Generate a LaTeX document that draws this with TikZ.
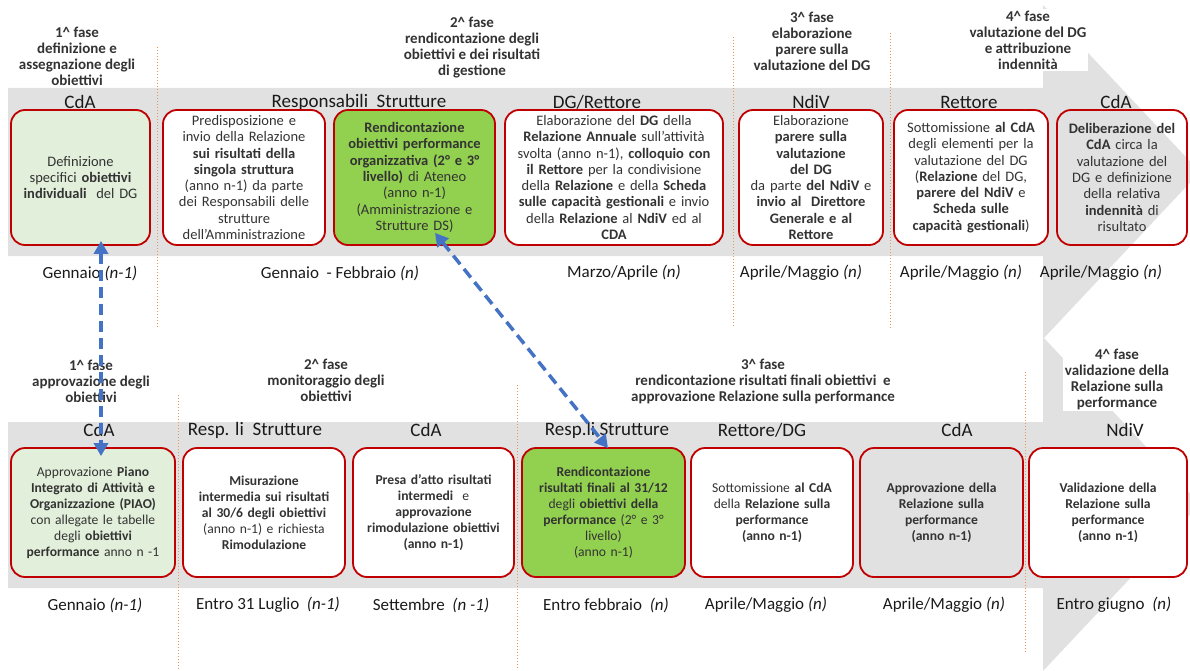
\documentclass[tikz,border=0pt]{standalone}
\usepackage{fontspec}
\setmainfont{Carlito}
\usepackage{tikz}
\usetikzlibrary{positioning, arrows.meta}

\definecolor{bandgray}{HTML}{E1E1E1}
\definecolor{boxred}{HTML}{C00000}
\definecolor{palegreen}{HTML}{E2EFDA}
\definecolor{leafgreen}{HTML}{92D050}
\definecolor{linkblue}{HTML}{4472C4}
\definecolor{sepor}{HTML}{EE9050}
\definecolor{txtgray}{HTML}{333333}
\definecolor{txtdark}{HTML}{1A1A1A}

\begin{document}
\begin{tikzpicture}[x=1pt,y=-1pt,font=\fontsize{14.5}{16.3}\selectfont]
    \tikzstyle{actbox} = [rectangle, rounded corners=14pt,
draw=boxred,
line width=1.8pt,
fill=white,
align=center,
inner sep=3pt,
text=txtgray]
\tikzstyle{toprow} = [actbox, minimum height=135pt]
\tikzstyle{botrow} = [actbox, minimum height=129pt, font=\fontsize{13.6}{16}\selectfont]
\tikzstyle{head} = [font=\fontsize{19}{21}\selectfont, text=txtdark]
\tikzstyle{datelbl} = [font=\fontsize{17}{19}\selectfont, text=txtdark]
\tikzstyle{phase} = [font=\bfseries\fontsize{15}{16}\selectfont,
align=center,
fill=white,
inner sep=2pt,
text=txtgray]
\tikzstyle{sepline} = [draw=sepor, line width=1pt, dotted]
\tikzstyle{link} = [draw=linkblue, line width=3.5pt, dash pattern=on 11pt off 6pt,
{Triangle[length=13pt,width=14pt]}-{Triangle[length=13pt,width=14pt]}]

\useasboundingbox (0,0) rectangle (1190,671);

% the two grey flow arrows
\fill [bandgray] (8,88) -- (1043,88) -- (1043,5) -- (1200,172) -- (1043,339) -- (1043,256) -- (8,256) -- cycle;
\fill [bandgray] (8,422) -- (1043,422) -- (1043,337) -- (1200,504) -- (1043,671) -- (1043,588) -- (8,588) -- cycle;

% phase separators
\draw [sepline] (157,47) -- (157,328);
\draw [sepline] (733,37) -- (733,328);
\draw [sepline] (890,33) -- (890,328);
\draw [sepline] (178,395) -- (178,670);
\draw [sepline] (517,385) -- (517,668);
\draw [sepline] (1025,372) -- (1025,653);

% phases, upper row
\node (ph1) [phase] at (77,56) {1\textasciicircum{} fase\\definizione e\\assegnazione degli\\obiettivi};
\node (ph2) [phase] at (472,48) {2\textasciicircum{} fase\\rendicontazione degli\\obiettivi e dei risultati\\di gestione};
\node (ph3) [phase] at (812,41) {3\textasciicircum{} fase\\elaborazione\\parere sulla\\valutazione del DG};
\node (ph4) [phase] at (1028,40) {4\textasciicircum{} fase\\valutazione del DG\\e attribuzione\\indennità};

% actors, upper row
\node (a1) [head] at (80,102) {CdA};
\node (a2) [head] at (359,102) {Responsabili\ \ Strutture};
\node (a3) [head] at (597,102) {DG/Rettore};
\node (a4) [head] at (811,102) {NdiV};
\node (a5) [head] at (969,102) {Rettore};
\node (a6) [head] at (1116,102) {CdA};

% activities, upper row
\node (b1) [toprow, fill=palegreen, text width=133pt] at (80.5,177.5) {Definizione\\specifici \textbf{obiettivi}\\\textbf{individuali}\ \ del DG};
\node (b2) [toprow, text width=156pt] at (244,177.5) {Predisposizione e\\invio della Relazione\\\textbf{sui risultati della}\\\textbf{singola struttura}\\(anno n-1) da parte\\dei Responsabili delle\\strutture\\dell’Amministrazione};
\node (b3) [toprow, fill=leafgreen, text width=155pt] at (414.5,177.5) {\textbf{Rendicontazione}\\\textbf{obiettivi performance}\\\textbf{organizzativa (2° e 3°}\\\textbf{livello)} di Ateneo\\(anno n-1)\\(Amministrazione e\\Strutture DS)};
\node (b4) [toprow, text width=212pt] at (614,177.5) {Elaborazione del \textbf{DG} della\\\textbf{Relazione Annuale} sull’attività\\svolta (anno n-1), \textbf{colloquio con}\\\textbf{il Rettore} per la condivisione\\della \textbf{Relazione} e della \textbf{Scheda}\\\textbf{sulle capacità gestionali} e invio\\della \textbf{Relazione} al \textbf{NdiV} ed al\\\textbf{CDA}};
\node (b5) [toprow, text width=138pt] at (811,177.5) {Elaborazione\\\textbf{parere sulla}\\\textbf{valutazione}\\\textbf{del DG}\\da parte \textbf{del NdiV} e\\\textbf{invio al\ \ Direttore}\\\textbf{Generale e al}\\\textbf{Rettore}};
\node (b6) [toprow, text width=148pt] at (971,177.5) {Sottomissione \textbf{al CdA}\\degli elementi per la\\valutazione del DG\\(\textbf{Relazione} del DG,\\\textbf{parere del NdiV} e\\\textbf{Scheda sulle}\\\textbf{capacità gestionali})};
\node (b7) [toprow, fill=none, text width=124pt] at (1122,177.5) {\textbf{Deliberazione del}\\\textbf{CdA} circa la\\valutazione del\\DG e definizione\\della relativa\\\textbf{indennità} di\\risultato};

% dates, upper row
\node (d1) [datelbl] at (90,273) {Gennaio \textit{(n-1)}};
\node (d2) [datelbl] at (340,273) {Gennaio\ \ - Febbraio \textit{(n)}};
\node (d3) [datelbl] at (624,273) {Marzo/Aprile \textit{(n)}};
\node (d4) [datelbl] at (801,273) {Aprile/Maggio \textit{(n)}};
\node (d5) [datelbl] at (961,273) {Aprile/Maggio \textit{(n)}};
\node (d6) [datelbl] at (1101,273) {Aprile/Maggio \textit{(n)}};

% phases, lower row
\node (pq1) [phase] at (91,381) {1\textasciicircum{} fase\\approvazione degli\\obiettivi};
\node (pq2) [phase] at (326,380) {2\textasciicircum{} fase\\monitoraggio degli\\obiettivi};
\node (pq3) [phase] at (763,381) {3\textasciicircum{} fase\\rendicontazione risultati finali obiettivi\ \ e\\approvazione Relazione sulla performance};
\node (pq4) [phase] at (1117,379) {4\textasciicircum{} fase\\validazione della\\Relazione sulla\\performance};

% actors, lower row
\node (e1) [head] at (99,430) {CdA};
\node (e2) [head] at (255,430) {Resp. li\ \ Strutture};
\node (e3) [head] at (426,430) {CdA};
\node (e4) [head] at (607,430) {Resp.li Strutture};
\node (e5) [head] at (762,430) {Rettore/DG};
\node (e6) [head] at (957,430) {CdA};
\node (e7) [head] at (1125,430) {NdiV};

% activities, lower row
\node (c1) [botrow, fill=palegreen, text width=158pt] at (93,512.5) {Approvazione \textbf{Piano}\\\textbf{Integrato di Attività e}\\\textbf{Organizzazione (PIAO)}\\con allegate le tabelle\\degli \textbf{obiettivi}\\\textbf{performance} anno n -1};
\node (c2) [botrow, text width=156pt] at (264,512.5) {\textbf{Misurazione}\\\textbf{intermedia sui risultati}\\\textbf{al 30/6 degli obiettivi}\\(anno n-1) e richiesta\\\textbf{Rimodulazione}};
\node (c3) [botrow, text width=155pt] at (433.5,512.5) {\textbf{Presa d’atto risultati}\\\textbf{intermedi}\ \ e\\\textbf{approvazione}\\\textbf{rimodulazione obiettivi}\\\textbf{(anno n-1)}};
\node (c4) [botrow, fill=leafgreen, text width=157pt] at (603.5,512.5) {\textbf{Rendicontazione}\\\textbf{risultati finali al 31/12}\\degli \textbf{obiettivi della}\\\textbf{performance} (2° e 3°\\livello)\\(anno n-1)};
\node (c5) [botrow, text width=156pt] at (772,512.5) {Sottomissione \textbf{al CdA}\\della \textbf{Relazione sulla}\\\textbf{performance}\\\textbf{(anno n-1)}};
\node (c6) [botrow, fill=none, text width=157pt] at (941.5,512.5) {\textbf{Approvazione della}\\\textbf{Relazione sulla}\\\textbf{performance}\\\textbf{(anno n-1)}};
\node (c7) [botrow, text width=152pt] at (1108,512.5) {\textbf{Validazione della}\\\textbf{Relazione sulla}\\\textbf{performance}\\\textbf{(anno n-1)}};

% dates, lower row
\node (f1) [datelbl] at (95,605) {Gennaio \textit{(n-1)}};
\node (f2) [datelbl] at (268,605) {Entro 31 Luglio\ \ \textit{(n-1)}};
\node (f3) [datelbl] at (431,605) {Settembre\ \ \textit{(n -1)}};
\node (f4) [datelbl] at (606,605) {Entro febbraio\ \ \textit{(n)}};
\node (f5) [datelbl] at (766,605) {Aprile/Maggio \textit{(n)}};
\node (f6) [datelbl] at (944,605) {Aprile/Maggio \textit{(n)}};
\node (f7) [datelbl] at (1114,605) {Entro giugno\ \ \textit{(n)}};

% links between the two cycles
\draw [link] ([xshift=20.5pt,yshift=5pt]b1.south) -- ([xshift=8pt,yshift=-9pt]c1.north);
\draw [link] ([xshift=20.5pt,yshift=13pt]b3.south) -- ([xshift=4.5pt,yshift=-1pt]c4.north);

\end{tikzpicture}
\end{document}
